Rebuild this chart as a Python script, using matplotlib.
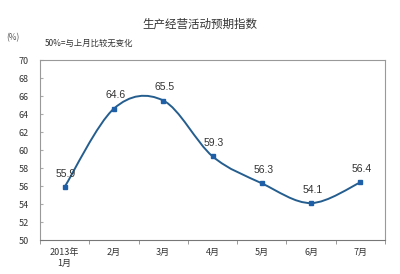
import numpy as np
import matplotlib.pyplot as plt
from matplotlib.path import Path
from matplotlib.patches import PathPatch

plt.rcParams['font.family'] = ['Noto Sans CJK SC', 'DejaVu Sans']

months = ['2013年\n1月', '2月', '3月', '4月', '5月', '6月', '7月']
values = [55.9, 64.6, 65.5, 59.3, 56.3, 54.1, 56.4]
yticks = list(range(50, 72, 2))

line_c = '#255e8e'
mark_c = '#1f5fa8'
txt_c = '#333333'

fig = plt.figure(figsize=(4, 2.74), dpi=100)
ax = fig.add_axes([40/400, 1-240/274, 345/400, 180/274])

x = np.arange(len(values))
y = np.array(values)

# smoothed line (bezier through the points, like a spreadsheet "smooth line")
verts = [(x[0], y[0])]
codes = [Path.MOVETO]
n = len(x)
for i in range(n - 1):
    p0 = (x[i-1], y[i-1]) if i > 0 else (x[i], y[i])
    p3 = (x[i+2], y[i+2]) if i + 2 < n else (x[i+1], y[i+1])
    c1 = (x[i] + (x[i+1] - p0[0]) / 6, y[i] + (y[i+1] - p0[1]) / 6)
    c2 = (x[i+1] - (p3[0] - x[i]) / 6, y[i+1] - (p3[1] - y[i]) / 6)
    verts += [c1, c2, (x[i+1], y[i+1])]
    codes += [Path.CURVE4] * 3
ax.add_patch(PathPatch(Path(verts, codes), fill=False, edgecolor=line_c, lw=1.4))
ax.plot(x, y, ls='none', marker='s', ms=3.2, color=mark_c)

for xi, yi in zip(x, y):
    ax.annotate(f'{yi}', (xi, yi), xytext=(1, 6), textcoords='offset points',
                ha='center', va='bottom', fontsize=7.5, color=txt_c, family='Liberation Sans')

ax.set_xlim(-0.5, len(values) - 0.5)
ax.set_ylim(50, 70)
ax.set_yticks(yticks)
ax.set_yticklabels([str(t) for t in yticks], fontsize=6.5, color=txt_c)
ax.set_xticks(x)
ax.set_xticklabels(months, fontsize=6.5, color=txt_c, linespacing=1.3)
ax.set_xticks(np.arange(-0.5, len(values)), minor=True)
ax.tick_params(axis='x', which='major', length=0, pad=6)
ax.tick_params(axis='x', which='minor', length=3, color='#888888', direction='out')
ax.tick_params(axis='y', length=2, color='#aaaaaa', direction='in', pad=8)

for s in ax.spines.values():
    s.set_color('#999999')
    s.set_linewidth(0.8)
ax.spines['bottom'].set_color('#777777')

fig.text(0.5, 1-24/274, '生产经营活动预期指数', ha='center', va='center', fontsize=8.3, color=txt_c)
fig.text(13/400, 1-38/274, '(%)', ha='center', va='center', fontsize=6, color='#555555')
fig.text(45/400, 1-43/274, '50%=与上月比较无变化', ha='left', va='center', fontsize=6, color=txt_c)

fig.savefig('out.png', dpi=100, facecolor='white')
